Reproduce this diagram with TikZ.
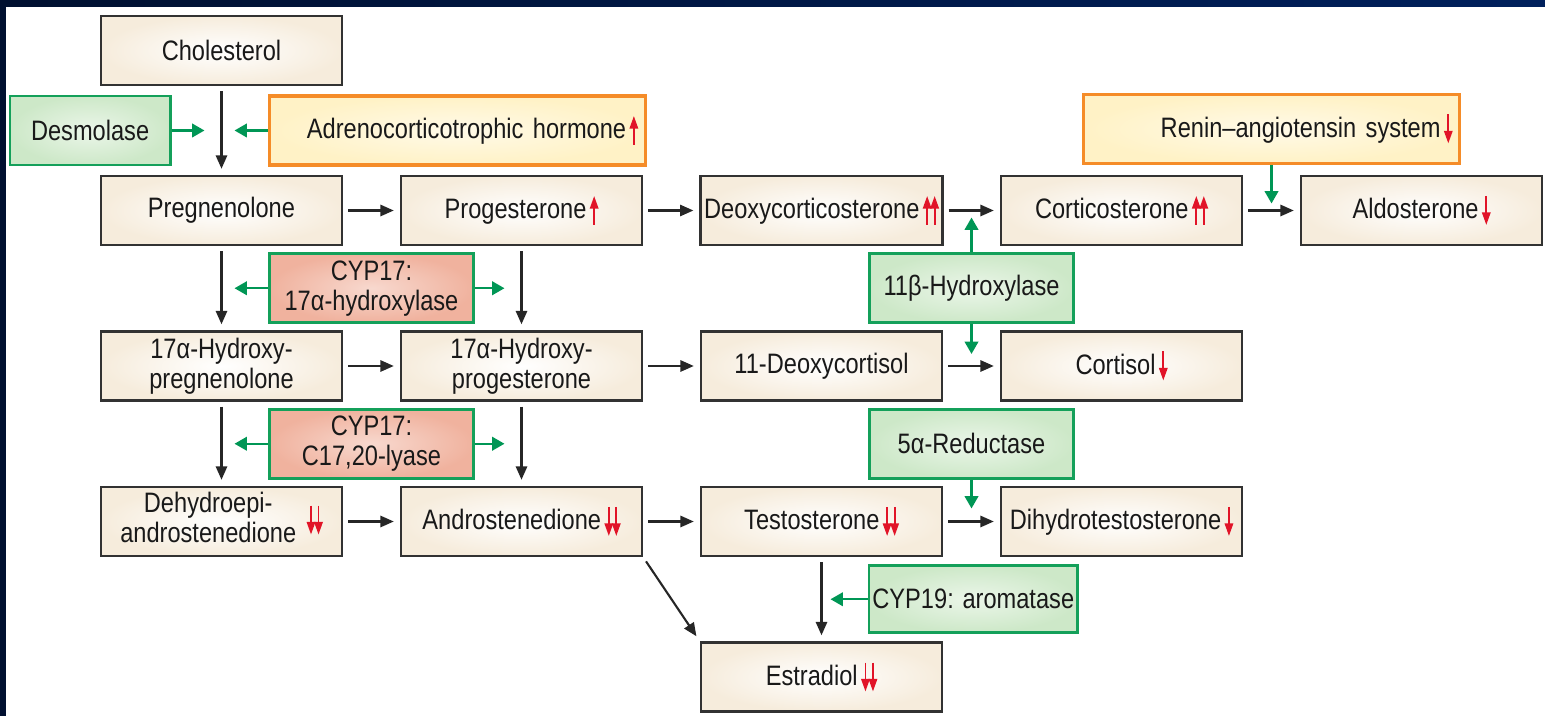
\documentclass[tikz,border=0pt]{standalone}
\usepackage{fontspec}
\setmainfont{Liberation Sans}[FakeStretch=0.84]
\usepackage{xcolor}
\usetikzlibrary{arrows.meta,positioning,calc}

\definecolor{cream}{RGB}{246,236,220}
\definecolor{boxline}{RGB}{50,50,50}
\definecolor{enzgreen}{RGB}{20,160,90}
\definecolor{greenfill}{RGB}{205,232,200}
\definecolor{regorange}{RGB}{245,140,40}
\definecolor{regfill}{RGB}{255,242,198}
\definecolor{cypfill}{RGB}{240,178,158}
\definecolor{arrowgreen}{RGB}{0,150,85}
\definecolor{hormonered}{RGB}{225,20,40}
\definecolor{navyleft}{RGB}{0,16,48}
\definecolor{navyright}{RGB}{0,32,92}

% small red arrows for raised / lowered levels
\newcommand{\hup}{\hspace{1pt}\tikz[baseline=0pt]\draw[hormonered, line width=0.55pt, -{Triangle[length=3.6pt,width=2.4pt]}] (0,-0.06) -- (0,0.23);}
\newcommand{\hdown}{\hspace{1pt}\tikz[baseline=0pt]\draw[hormonered, line width=0.55pt, -{Triangle[length=3.6pt,width=2.4pt]}] (0,0.23) -- (0,-0.06);}
\newcommand{\hupup}{\hspace{1pt}\tikz[baseline=0pt]{
    \draw[hormonered, line width=0.55pt, -{Triangle[length=3.6pt,width=2.4pt]}] (0,-0.06) -- (0,0.23);
    \draw[hormonered, line width=0.55pt, -{Triangle[length=3.6pt,width=2.4pt]}] (0.075,-0.06) -- (0.075,0.23);}}
\newcommand{\hdowndown}{\hspace{1pt}\tikz[baseline=0pt]{
    \draw[hormonered, line width=0.55pt, -{Triangle[length=3.6pt,width=2.4pt]}] (0,0.23) -- (0,-0.06);
    \draw[hormonered, line width=0.55pt, -{Triangle[length=3.6pt,width=2.4pt]}] (0.075,0.23) -- (0.075,-0.06);}}

\begin{document}
\begin{tikzpicture}[
    on grid,
    node distance=1.555cm and 3.0cm,
    every node/.style={font=\fontsize{8}{8.6}\selectfont, text=black!90},
    % box styles
    hormone/.style={rectangle, draw=boxline, line width=0.7pt, shading=radial,
        inner color=white, outer color=cream, minimum width=2.41cm,
        minimum height=0.69cm, inner sep=1pt, align=center},
    enzyme/.style={rectangle, draw=enzgreen, line width=0.8pt, shading=radial,
        inner color=white!60!greenfill, outer color=greenfill, minimum width=2.04cm,
        minimum height=0.69cm, inner sep=1pt, align=center},
    cyp/.style={enzyme, inner color=white!50!cypfill, outer color=cypfill},
    regulator/.style={rectangle, draw=regorange, line width=0.9pt, shading=radial,
        inner color=white!60!regfill, outer color=regfill, text width=3.62cm,
        inner xsep=0.07cm, minimum height=0.69cm, align=right},
    % arrow styles
    arrow/.style={-{Triangle[length=3.8pt,width=3.2pt]}, line width=0.6pt, color=black!85,
        shorten <=0.05cm, shorten >=0.06cm},
    enzarrow/.style={-{Triangle[length=3.5pt,width=3.8pt]}, line width=0.7pt, color=arrowgreen}
]
    \useasboundingbox (0,0) rectangle (15.45,7.16);
    \fill[left color=navyleft, right color=navyright] (0,7.09) rectangle (15.45,7.16);
    \fill[navyleft] (0,0) rectangle (0.06,7.16);

    % Hormones - grid of rows and columns
    \node[hormone] (cholesterol) at (2.215,6.655) {Cholesterol};
    \node[hormone, below=1.6cm of cholesterol] (pregnenolone) {Pregnenolone};
    \node[hormone, right=of pregnenolone] (progesterone) {Progesterone\hup};
    \node[hormone, right=of progesterone] (deoxycorticosterone) {Deoxycorticosterone\hupup};
    \node[hormone, right=of deoxycorticosterone] (corticosterone) {Corticosterone\hupup};
    \node[hormone, right=of corticosterone] (aldosterone) {Aldosterone\hdown};

    \node[hormone, below=of pregnenolone] (hydroxypregnenolone) {17α-Hydroxy-\\pregnenolone};
    \node[hormone, right=of hydroxypregnenolone] (hydroxyprogesterone) {17α-Hydroxy-\\progesterone};
    \node[hormone, right=of hydroxyprogesterone] (deoxycortisol) {11-Deoxycortisol};
    \node[hormone, right=of deoxycortisol] (cortisol) {Cortisol\hdown};

    \node[hormone, below=of hydroxypregnenolone] (dhea)
        {\begin{tabular}{@{}c@{}}Dehydroepi-\\androstenedione\end{tabular}\hspace{2pt}\hdowndown};
    \node[hormone, right=of dhea] (androstenedione) {Androstenedione\hdowndown};
    \node[hormone, right=of androstenedione] (testosterone) {Testosterone\hdowndown};
    \node[hormone, right=of testosterone] (dihydrotestosterone) {Dihydrotestosterone\hdown};
    \node[hormone, below=of testosterone] (estradiol) {Estradiol\hdowndown};

    % Enzymes and regulators
    \coordinate (cholpreg) at ($(cholesterol.south)!0.5!(pregnenolone.north)$);
    \node[enzyme, on grid=false, minimum width=1.60cm, left=0.5cm of cholpreg] (desmolase) {Desmolase};
    \node[regulator, on grid=false, right=0.46cm of cholpreg] (acth) {Adrenocorticotrophic hormone\hup};
    \coordinate (cortaldo) at ($(corticosterone.east)!0.5!(aldosterone.west)$);
    \node[regulator, on grid=false, above=0.455cm of cortaldo] (renin) {Renin–angiotensin system\hdown};
    \node[cyp] (hydroxylase) at ($(pregnenolone)!0.5!(hydroxyprogesterone)$) {CYP17:\\17α-hydroxylase};
    \node[cyp] (lyase) at ($(hydroxypregnenolone)!0.5!(androstenedione)$) {CYP17:\\C17,20-lyase};
    \node[enzyme] (betahydroxylase) at ($(deoxycorticosterone)!0.5!(cortisol)$) {11β-Hydroxylase};
    \node[enzyme] (reductase) at ($(deoxycortisol)!0.5!(dihydrotestosterone)$) {5α-Reductase};
    \coordinate (testestr) at ($(testosterone.south)!0.5!(estradiol.north)$);
    \node[enzyme, on grid=false, minimum height=0.67cm, right=0.46cm of testestr] (aromatase) {CYP19: aromatase};

    % Pathway arrows
    \draw[arrow] (cholesterol) -- (pregnenolone);
    \draw[arrow] (pregnenolone) -- (progesterone);
    \draw[arrow] (progesterone) -- (deoxycorticosterone);
    \draw[arrow] (deoxycorticosterone) -- (corticosterone);
    \draw[arrow] (corticosterone) -- (aldosterone);
    \draw[arrow] (pregnenolone) -- (hydroxypregnenolone);
    \draw[arrow] (progesterone) -- (hydroxyprogesterone);
    \draw[arrow] (hydroxypregnenolone) -- (hydroxyprogesterone);
    \draw[arrow] (hydroxyprogesterone) -- (deoxycortisol);
    \draw[arrow] (deoxycortisol) -- (cortisol);
    \draw[arrow] (hydroxypregnenolone) -- (dhea);
    \draw[arrow] (hydroxyprogesterone) -- (androstenedione);
    \draw[arrow] (dhea) -- (androstenedione);
    \draw[arrow] (androstenedione) -- (testosterone);
    \draw[arrow] (testosterone) -- (dihydrotestosterone);
    \draw[arrow] (testosterone) -- (estradiol);
    \draw[arrow] (androstenedione.south east) -- (estradiol.north west);

    % Enzyme and regulator arrows
    \draw[enzarrow, shorten >=0.17cm] (desmolase.east) -- (desmolase.east -| cholpreg);
    \draw[enzarrow, shorten >=0.13cm] (acth.west) -- (acth.west -| cholpreg);
    \draw[enzarrow, shorten >=0.07cm] (renin.south -| cortaldo) -- (cortaldo);
    \draw[enzarrow, shorten >=0.13cm] (hydroxylase.west) -- (hydroxylase.west -| pregnenolone);
    \draw[enzarrow, shorten >=0.17cm] (hydroxylase.east) -- (hydroxylase.east -| progesterone);
    \draw[enzarrow, shorten >=0.13cm] (lyase.west) -- (lyase.west -| hydroxypregnenolone);
    \draw[enzarrow, shorten >=0.17cm] (lyase.east) -- (lyase.east -| hydroxyprogesterone);
    \draw[enzarrow, shorten >=0.07cm] (betahydroxylase.north) -- (betahydroxylase.north |- corticosterone);
    \draw[enzarrow, shorten >=0.12cm] (betahydroxylase.south) -- (betahydroxylase.south |- cortisol);
    \draw[enzarrow, shorten >=0.13cm] (reductase.south) -- (reductase.south |- dihydrotestosterone);
    \draw[enzarrow, shorten >=0.09cm] (aromatase.west) -- (aromatase.west -| testestr);
\end{tikzpicture}
\end{document}
